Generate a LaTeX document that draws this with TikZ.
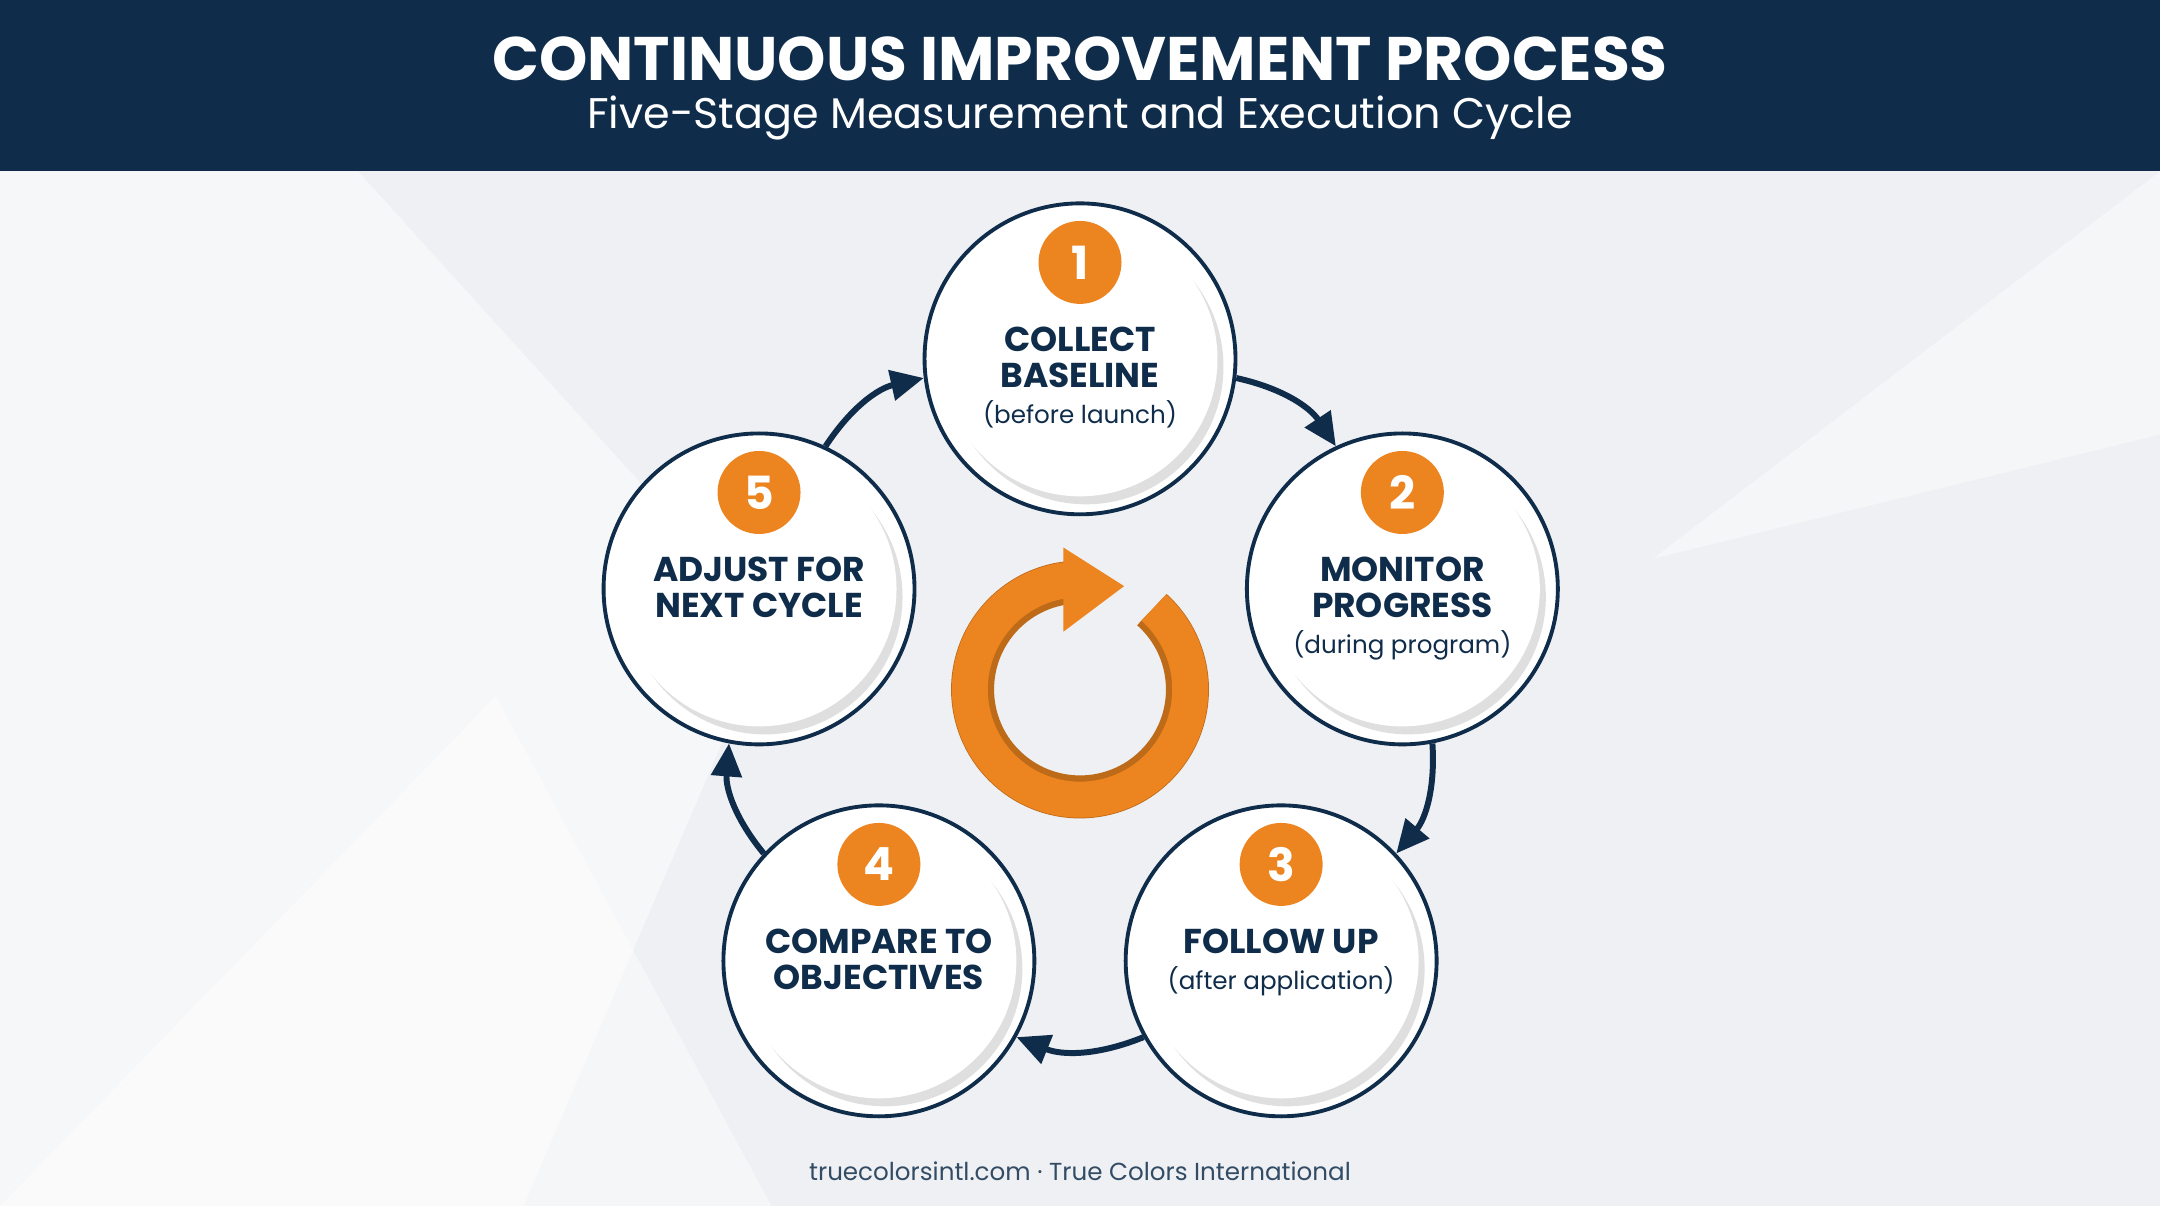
\documentclass[tikz,border=0pt]{standalone}
\usepackage{fontspec}
\setmainfont{Poppins}
\usetikzlibrary{arrows.meta,shadows,positioning,calc}
\definecolor{navy}{HTML}{0F2D4A}
\definecolor{orng}{HTML}{EC8420}
\definecolor{bgray}{HTML}{EEF0F3}
\newcommand\subt[1]{{\fontsize{7}{8}\selectfont\mdseries #1}}
\tikzset{
  stage/.style={circle,draw=navy,line width=1.1pt,fill=white,minimum size=3.11cm,inner sep=0pt},
  disk/.style={circle,fill=white,minimum size=2.75cm,inner sep=0pt,drop shadow={shadow xshift=0.06cm,shadow yshift=-0.08cm,opacity=0.25}},
  badge/.style={circle,fill=orng,minimum size=0.83cm,inner sep=0pt,text=white,font=\fontsize{13}{13}\selectfont\bfseries},
  label/.style={align=center,text=navy,font=\fontsize{9.8}{10.2}\selectfont\bfseries},
  flow/.style={navy,line width=1.7pt,-{Triangle[length=0.33cm,width=0.3cm]}}
}
\begin{document}
\begin{tikzpicture}[x=0.013776cm,y=0.013776cm]
\useasboundingbox (0,0) rectangle (1568,875.5);
% Background
\fill[bgray] (0,0) rectangle (1568,875.5);
\fill[white,opacity=0.5] (0,751) -- (260,751) -- (560,420) -- (380,0) -- (0,0) -- cycle;
\fill[white,opacity=0.4] (1568,751) -- (1568,560) -- (1200,470) -- cycle;
\fill[white,opacity=0.45] (0,0) -- (360,370) -- (560,0) -- cycle;
% Header
\fill[navy] (0,751) rectangle (1568,875.5);
\node[text=white,font=\fontsize{17.5}{18}\selectfont\bfseries] (title) at (784,833) {CONTINUOUS IMPROVEMENT PROCESS};
\node[text=white,font=\fontsize{12.2}{13}\selectfont] (subtitle) at (784,790) {Five-Stage Measurement and Execution Cycle};
% Stages
\foreach \n/\x/\y/\txt in {1/784/615/{COLLECT\\BASELINE\\\subt{(before launch)}},
    2/1018/448/{MONITOR\\PROGRESS\\\subt{(during program)}},
    3/930/178/{FOLLOW UP\\\subt{(after application)}},
    4/638/178/{COMPARE TO\\OBJECTIVES},
    5/551/448/{ADJUST FOR\\NEXT CYCLE}} {
  \node[stage] (c\n) at (\x,\y) {};
  \node[disk] (d\n) at (\x,\y) {};
  \node[badge] (b\n) at (\x,\y+70) {\n};
  \node[label,below=0.1cm of b\n] (t\n) {\txt};
}
% Connectors
\foreach \a/\b/\ta/\tb in {1/2/90/18,2/3/18/-54,3/4/-54/-126,4/5/-126/-198,5/1/162/90} {
  \pgfmathsetmacro\out{\ta-97}
  \pgfmathsetmacro\in{\tb+97}
  \draw[flow] (c\a.\out) to[bend left=22] (c\b.\in);
}
% Centre cycle arrow
\coordinate (mid) at (784,375);
\draw[orng!80!black,line width=0.43cm] ([shift={(48:78)}]mid) arc[start angle=48,end angle=-263,radius=78];
\draw[orng,line width=0.36cm] ([shift={(48:80)}]mid) arc[start angle=48,end angle=-263,radius=80];
\fill[orng] ([shift={(-12,103)}]mid) -- ([shift={(-12,42)}]mid) -- ([shift={(32,75)}]mid) -- cycle;
% Footer
\node[text=navy!85,font=\fontsize{7}{8}\selectfont] (foot) at (784,25) {truecolorsintl.com · True Colors International};
\end{tikzpicture}
\end{document}
